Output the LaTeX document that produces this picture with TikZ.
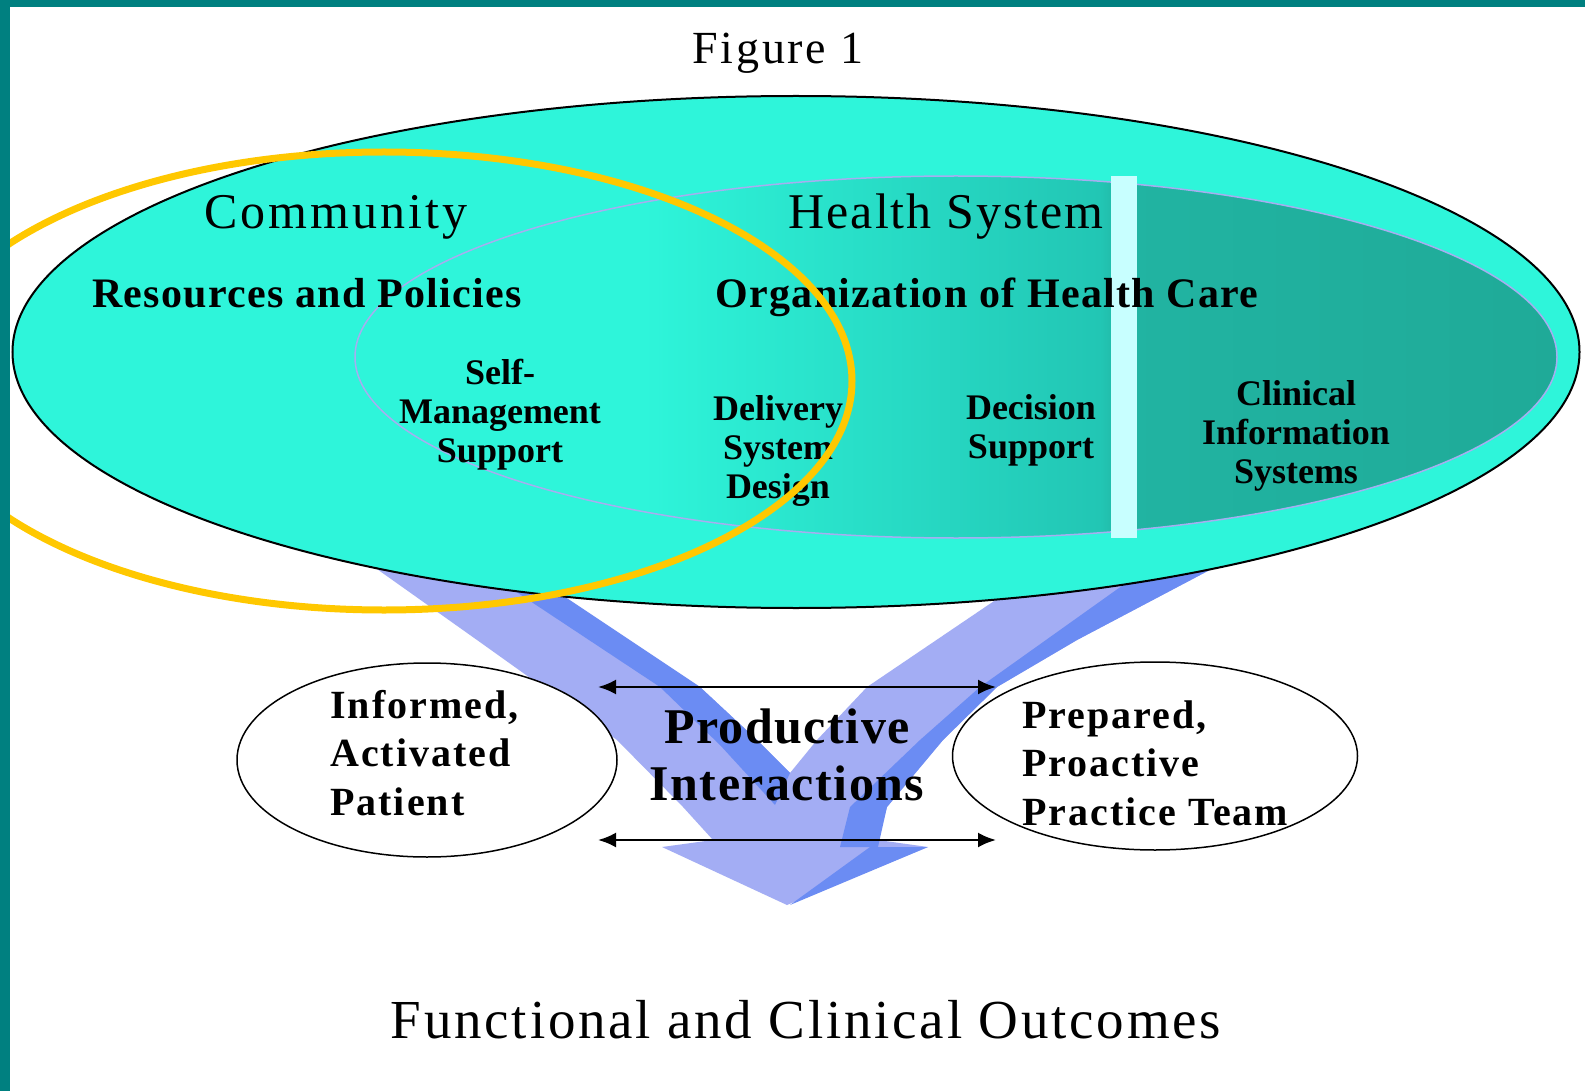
\documentclass[tikz,border=0pt]{standalone}
\usepackage{fontspec}
\setmainfont{Liberation Serif}
\usetikzlibrary{shapes.geometric, arrows.meta}
\definecolor{frameteal}{HTML}{008080}
\definecolor{aqua}{HTML}{2EF5DA}
\definecolor{hsmid}{HTML}{22C6B4}
\definecolor{hsdark}{HTML}{21B4A2}
\definecolor{hsdeep}{HTML}{1FAA98}
\definecolor{lavender}{HTML}{A6AEF0}
\definecolor{barcyan}{HTML}{C8FFFF}
\definecolor{gold}{HTML}{FFC800}
\definecolor{armlight}{HTML}{A3ADF4}
\definecolor{armdark}{HTML}{6B8CF3}
\pgfdeclarehorizontalshading{hsys}{100bp}{color(0bp)=(aqua); color(37bp)=(aqua);
  color(56bp)=(hsmid); color(57bp)=(hsdark); color(75bp)=(hsdeep); color(100bp)=(hsdeep)}

\begin{document}
\begin{tikzpicture}[x=1pt, y=-1pt,
    heading/.style={font=\fontsize{50}{60}\selectfont\addfontfeature{LetterSpace=6},
      anchor=base, inner sep=0pt},
    subheading/.style={font=\bfseries\fontsize{42}{50}\selectfont\addfontfeature{LetterSpace=3},
      anchor=base, inner sep=0pt},
    element/.style={font=\bfseries\fontsize{36}{39}\selectfont, align=center,
      anchor=base, inner sep=0pt},
    actor/.style={ellipse, draw, line width=1.5pt, fill=white, inner sep=0pt},
    actortext/.style={font=\bfseries\fontsize{40}{48.5}\selectfont\addfontfeature{LetterSpace=5},
      align=left, anchor=base west, inner sep=0pt},
    link/.style={{Latex[length=18pt,width=15pt]}-{Latex[length=18pt,width=15pt]},
      line width=2.5pt}]

  \useasboundingbox (0,0) rectangle (1585,1091);
  \fill[white] (0,0) rectangle (1585,1091);

% CHEVRON

  \fill[armlight] (336,540) -- (477,640) -- (617,740) -- (683,807) -- (713,840)
    -- (662,847) -- (787,905) -- (928,847) -- (878,840) -- (887,807) -- (943,740)
    -- (997,687) -- (1077,640) -- (1204,573) -- (1266,540) -- (1097,540)
    -- (1000,597) -- (867,687) -- (817,740) -- (790,773)
    -- (757,740) -- (700,687) -- (565,597) -- (480,540) -- cycle;
  \fill[armdark] (438,540) -- (524,597) -- (660,687) -- (720,745) -- (775,805)
    -- (790,773) -- (757,740) -- (700,687) -- (565,597) -- (480,540) -- cycle;
  \fill[armdark] (1266,540) -- (1204,573) -- (1077,640) -- (997,687) -- (943,740)
    -- (887,807) -- (878,847) -- (840,847) -- (850,807) -- (920,740) -- (980,687)
    -- (1140,573) -- (1200,540) -- cycle;
  \fill[armdark] (870,847) -- (928,847) -- (790,905) -- cycle;

% ELLIPSES

  \node[ellipse, draw, line width=2pt, fill=aqua, inner sep=0pt,
    minimum width=1567pt, minimum height=512pt] (community) at (796,352) {};
  \node[ellipse, draw=lavender, line width=1.5pt, shade, shading=hsys, inner sep=0pt,
    minimum width=1202pt, minimum height=362pt] (healthsys) at (956,357) {};
  \fill[barcyan] (1111,176) rectangle (1137,538);

% TEXTS

  \node[heading, font=\fontsize{46}{55}\selectfont\addfontfeature{LetterSpace=6}]
    (figtitle) at (778,64) {Figure 1};
  \node[heading] (commtitle) at (336,229) {Community};
  \node[heading, font=\fontsize{50}{60}\selectfont\addfontfeature{LetterSpace=4}]
    (hstitle) at (946,229) {Health System};
  \node[subheading] (resources) at (307,308) {Resources and Policies};
  \node[subheading] (organization) at (987,308) {Organization of Health Care};
  \node[element] (selfmgmt) at (500,462) {Self-\\Management\\Support};
  \node[element] (delivery) at (778,498) {Delivery\\System\\Design};
  \node[element] (decision) at (1031,458) {Decision\\Support};
  \node[element] (clinical) at (1296,483) {Clinical\\Information\\Systems};

% INTERACTION

  \node[actor, minimum width=380pt, minimum height=194pt] (patient) at (427,760) {};
  \node[actortext] (patienttext) at (330,815) {Informed,\\Activated\\Patient};
  \node[actor, minimum width=405pt, minimum height=188pt] (team) at (1155,756) {};
  \node[actortext] (teamtext) at (1022,825) {Prepared,\\Proactive\\Practice Team};
  \node[font=\bfseries\fontsize{50}{57}\selectfont\addfontfeature{LetterSpace=3},
    align=center, anchor=base, inner sep=0pt] (productive) at (787,800)
    {Productive\\Interactions};

  \coordinate (upleft) at (598,687);
  \coordinate (upright) at (996,687);
  \coordinate (lowleft) at (598,840);
  \coordinate (lowright) at (996,840);
  \draw[link] (upleft) -- (upright);
  \draw[link] (lowleft) -- (lowright);

  \node[heading, font=\fontsize{55}{66}\selectfont\addfontfeature{LetterSpace=5}]
    (outcomes) at (806,1038) {Functional and Clinical Outcomes};

% HIGHLIGHT

  \node[ellipse, draw=gold, line width=7pt, inner sep=0pt,
    minimum width=936pt, minimum height=458pt] (focus) at (384,381) {};

  \fill[frameteal] (0,0) rectangle (10,1091);
  \fill[frameteal] (0,0) rectangle (1585,7);
\end{tikzpicture}
\end{document}
